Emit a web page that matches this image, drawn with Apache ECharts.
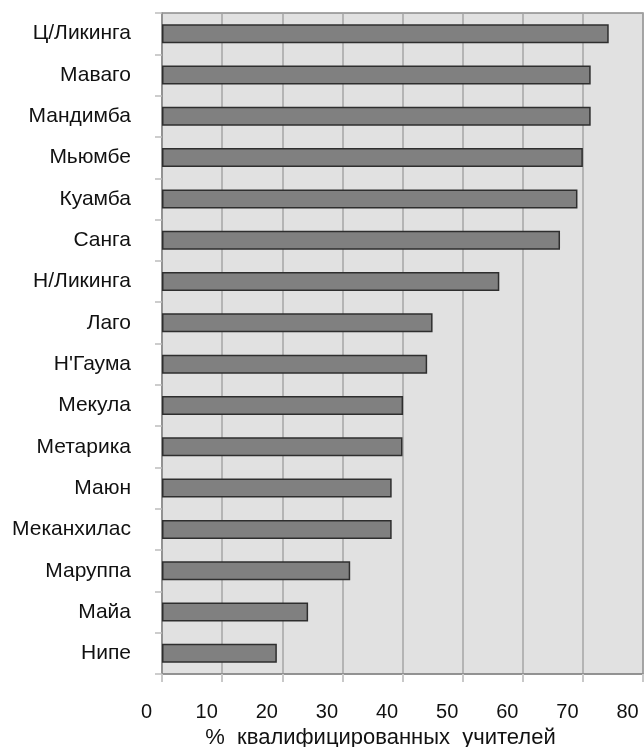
<!DOCTYPE html>
<html>
<head>
<meta charset="utf-8">
<script src="https://cdn.jsdelivr.net/npm/echarts@6/dist/echarts.min.js"></script>
<style>
html,body{margin:0;padding:0;background:#fff;}
#chart{width:644px;height:747px;}
</style>
</head>
<body>
<div id="chart"></div>
<script>
const categories = ["Ц/Ликинга","Маваго","Мандимба","Мьюмбе","Куамба","Санга","Н/Ликинга","Лаго","Н'Гаума","Мекула","Метарика","Маюн","Меканхилас","Маруппа","Майа","Нипе"];
const values = [74.3, 71.3, 71.3, 70.0, 69.1, 66.2, 56.1, 45.0, 44.1, 40.1, 40.0, 38.2, 38.2, 31.3, 24.3, 19.1];
const axisTitle = "%  квалифицированных  учителей";

const chart = echarts.init(document.getElementById('chart'));
const font = "'Liberation Sans', Arial, sans-serif";
chart.setOption({
  animation: false,
  backgroundColor: '#ffffff',
  grid: {
    left: 162, right: 1, top: 13, bottom: 73,
    containLabel: false, outerBoundsMode: 'none',
    show: true, backgroundColor: '#e1e1e1', borderColor: '#8c8c8c', borderWidth: 1.5
  },
  xAxis: {
    type: 'value', min: 0, max: 80, interval: 10,
    name: axisTitle, nameLocation: 'middle', nameGap: 52,
    nameTextStyle: { color: '#111', fontFamily: font, fontSize: 22, padding: [0, 44, 0, 0] },
    axisLine: { show: true, lineStyle: { color: '#8c8c8c', width: 1.5 } },
    axisTick: { show: true, length: 8, lineStyle: { color: '#c8c8c8', width: 2 } },
    axisLabel: { color: '#111', fontFamily: font, fontSize: 20, margin: 28, padding: [0, 31, 0, 0] },
    splitLine: { show: true, lineStyle: { color: '#a4a4a4', width: 1.5 } }
  },
  yAxis: {
    type: 'category', data: categories, inverse: true,
    axisLine: { show: true, lineStyle: { color: '#8c8c8c', width: 1.5 } },
    axisTick: { show: true, length: 7, lineStyle: { color: '#bdbdbd', width: 1.5 } },
    axisLabel: { color: '#111', fontFamily: font, fontSize: 21, margin: 31 },
    splitLine: { show: false }
  },
  series: [{
    type: 'bar', data: values, barWidth: 19,
    itemStyle: { color: '#808080', borderColor: '#2e2e2e', borderWidth: 1.5 }
  }]
});
</script>
</body>
</html>
